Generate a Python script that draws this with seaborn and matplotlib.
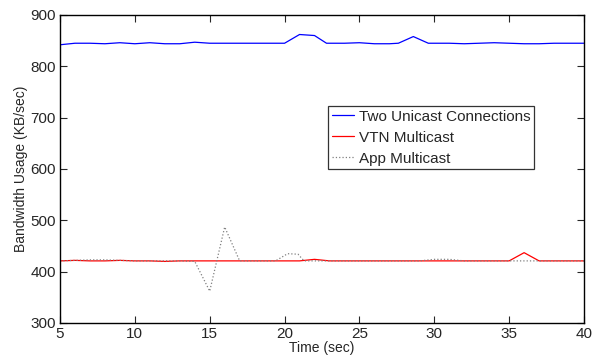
import matplotlib
matplotlib.use("Agg")
import matplotlib.pyplot as plt
import seaborn as sns
import pandas as pd
import numpy as np

# Data
unicast_t = [5, 6, 7, 8, 9, 10, 11, 12, 13, 14, 15, 16, 17, 18, 19, 20, 21, 22, 22.8,
             24, 25, 26, 27, 27.6, 28.6, 29.6, 31, 32, 33, 34, 35, 36, 37, 38, 39, 40]
unicast_v = [842, 845, 845, 844, 846, 844, 846, 844, 844, 847, 845, 845, 845, 845, 845, 845, 862, 860, 845,
             845, 846, 844, 844, 845, 858, 845, 845, 844, 845, 846, 845, 844, 844, 845, 845, 845]

vtn_t = list(range(5, 41))
vtn_v = [421, 422, 421, 421, 422, 421, 421, 420, 421, 421, 421, 421, 421, 421, 421, 421, 421, 424,
         421, 421, 421, 421, 421, 421, 421, 421, 421, 421, 421, 421, 421, 437, 421, 421, 421, 421]

app_t = [5, 6, 7, 8, 9, 10, 11, 12, 13, 14, 15, 16, 17, 18, 19, 19.4, 20.2, 20.9, 21.3,
         22, 23, 24, 25, 26, 27, 28, 29, 30, 31, 32, 33, 34, 35, 36, 37, 38, 39, 40]
app_v = [421, 422, 423, 423, 422, 421, 421, 421, 421, 420, 362, 487, 421, 421, 421, 421, 435, 434, 421,
         421, 421, 421, 421, 421, 421, 421, 421, 424, 424, 421, 421, 421, 421, 421, 421, 421, 421, 421]

labels = ["Two Unicast Connections", "VTN Multicast", "App Multicast"]

df = pd.concat([
    pd.DataFrame({"t": unicast_t, "v": unicast_v, "s": labels[0]}),
    pd.DataFrame({"t": vtn_t, "v": vtn_v, "s": labels[1]}),
    pd.DataFrame({"t": app_t, "v": app_v, "s": labels[2]}),
])

sns.set_style("ticks")
plt.rcParams["font.family"] = ["Liberation Sans", "DejaVu Sans"]

fig = plt.figure(figsize=(5.94, 3.56), dpi=100)
ax = fig.add_axes([60 / 594, 1 - 323 / 356, 524 / 594, 308 / 356])

colors = {labels[0]: "#0000ff", labels[1]: "#ff0000", labels[2]: "#808080"}
styles = {labels[0]: "-", labels[1]: "-", labels[2]: ":"}
for lab in labels:
    sub = df[df["s"] == lab]
    sns.lineplot(data=sub, x="t", y="v", ax=ax, color=colors[lab], linestyle=styles[lab],
                 linewidth=0.9, label=lab, sort=False, estimator=None)

ax.set_xlim(5, 40)
ax.set_ylim(300, 900)
ax.set_xticks(range(5, 41, 5))
ax.set_yticks(range(300, 901, 100))
ax.tick_params(direction="in", top=True, right=True, labelsize=11, length=5, width=0.8, pad=3)
for sp in ax.spines.values():
    sp.set_linewidth(1.0)
    sp.set_color("black")
ax.set_xlabel("Time (sec)", fontsize=10, labelpad=0)
ax.set_ylabel("Bandwidth Usage (KB/sec)", fontsize=10, labelpad=2)

leg = ax.legend(loc="upper left", bbox_to_anchor=((328 - 60) / 524, (323 - 106) / 308),
                fontsize=11, frameon=True, fancybox=False, edgecolor="black",
                handlelength=1.45, handletextpad=0.3, borderpad=0.25, labelspacing=0.45,
                borderaxespad=0)
leg.get_frame().set_linewidth(0.9)

fig.savefig("out.png", dpi=100)
